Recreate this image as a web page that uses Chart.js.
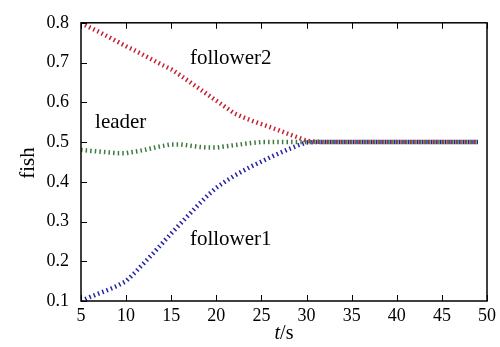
<!DOCTYPE html>
<html>
<head>
<meta charset="utf-8">
<script src="https://cdn.jsdelivr.net/npm/chart.js@4.4.1/dist/chart.umd.min.js"></script>
<style>
html, body { margin: 0; padding: 0; background: #fff; }
#wrap { width: 500px; height: 347px; position: relative; }
</style>
</head>
<body>
<div id="wrap"><canvas id="fish_chart"></canvas></div>
<script>
// time axis (s)
var times = [5, 6, 7, 8, 9, 10, 11, 12, 13, 14, 15, 16, 17, 18, 19, 20, 21, 22, 23, 24, 25, 26, 27, 28, 29, 30,
             31, 32, 33, 34, 35, 36, 37, 38, 39, 40, 41, 42, 43, 44, 45, 46, 47, 48, 49];

var follower2 = [0.800, 0.788, 0.777, 0.765, 0.753, 0.741, 0.730, 0.718, 0.706, 0.694, 0.683, 0.668, 0.652, 0.636, 0.620, 0.604,
                 0.588, 0.572, 0.562, 0.553, 0.545, 0.537, 0.529, 0.520, 0.512, 0.503,
                 0.501, 0.500, 0.500, 0.500, 0.500, 0.500, 0.500, 0.500, 0.500, 0.500, 0.500, 0.500, 0.500, 0.500,
                 0.500, 0.500, 0.500, 0.500, 0.500];

var leader = [0.480, 0.478, 0.476, 0.474, 0.472, 0.472, 0.476, 0.480, 0.485, 0.490, 0.494, 0.494, 0.491, 0.488, 0.486, 0.486,
              0.489, 0.492, 0.495, 0.498, 0.500, 0.500, 0.500, 0.500, 0.500, 0.500,
              0.500, 0.500, 0.500, 0.500, 0.500, 0.500, 0.500, 0.500, 0.500, 0.500, 0.500, 0.500, 0.500, 0.500,
              0.500, 0.500, 0.500, 0.500, 0.500];

var follower1 = [0.100, 0.110, 0.119, 0.128, 0.138, 0.150, 0.172, 0.196, 0.220, 0.245, 0.270, 0.294, 0.318, 0.342, 0.365, 0.385,
                 0.401, 0.415, 0.428, 0.440, 0.451, 0.462, 0.472, 0.482, 0.491, 0.499,
                 0.500, 0.500, 0.500, 0.500, 0.500, 0.500, 0.500, 0.500, 0.500, 0.500, 0.500, 0.500, 0.500, 0.500,
                 0.500, 0.500, 0.500, 0.500, 0.500];

var xTicks = [5, 10, 15, 20, 25, 30, 35, 40, 45, 50];
var yTicks = [0.1, 0.2, 0.3, 0.4, 0.5, 0.6, 0.7, 0.8];

// curve name labels, placed in data coordinates
var curveLabels = [
    { text: 'follower2', t: 21.6, v: 0.710 },
    { text: 'leader', t: 9.4, v: 0.550 },
    { text: 'follower1', t: 21.6, v: 0.255 }
];

var serif = '"Liberation Serif", "Times New Roman", serif';

function pairs(xs, ys) {
    return xs.map(function (x, i) { return { x: x, y: ys[i] }; });
}

var frameAndText = {
    id: 'frameAndText',
    afterDraw: function (chart) {
        var ctx = chart.ctx, a = chart.chartArea;
        var xs = chart.scales.x, ys = chart.scales.y;
        ctx.save();
        ctx.strokeStyle = '#000';
        ctx.lineWidth = 1.5;
        ctx.strokeRect(a.left, a.top, a.right - a.left, a.bottom - a.top);

        // inward ticks: bottom, top and left
        ctx.lineWidth = 1;
        ctx.beginPath();
        xTicks.forEach(function (t) {
            var px = Math.round(xs.getPixelForValue(t)) + 0.5;
            ctx.moveTo(px, a.bottom); ctx.lineTo(px, a.bottom - 6);
            ctx.moveTo(px, a.top); ctx.lineTo(px, a.top + 6);
        });
        yTicks.forEach(function (v) {
            var py = Math.round(ys.getPixelForValue(v)) + 0.5;
            ctx.moveTo(a.left, py); ctx.lineTo(a.left + 6, py);
        });
        ctx.stroke();

        ctx.fillStyle = '#000';
        ctx.font = '21px ' + serif;
        ctx.textAlign = 'center';
        ctx.textBaseline = 'middle';
        curveLabels.forEach(function (l) {
            ctx.fillText(l.text, xs.getPixelForValue(l.t), ys.getPixelForValue(l.v));
        });

        // y title
        ctx.save();
        ctx.translate(28, 163);
        ctx.rotate(-Math.PI / 2);
        ctx.fillText('fish', 0, 0);
        ctx.restore();

        // x title: italic t, upright /s
        ctx.textAlign = 'left';
        ctx.font = 'italic 20px ' + serif;
        var tw = ctx.measureText('t').width;
        ctx.font = '20px ' + serif;
        var sw = ctx.measureText('/s').width;
        var x0 = 284 - (tw + sw) / 2;
        ctx.font = 'italic 20px ' + serif;
        ctx.fillText('t', x0, 334);
        ctx.font = '20px ' + serif;
        ctx.fillText('/s', x0 + tw, 334);
        ctx.restore();
    }
};

function lineSet(label, values, color) {
    return {
        label: label,
        data: pairs(times, values),
        borderColor: color,
        borderWidth: 4.5,
        borderDash: [1.5, 3.1],
        borderCapStyle: 'butt',
        pointRadius: 0,
        fill: false,
        tension: 0
    };
}

new Chart(document.getElementById('fish_chart').getContext('2d'), {
    type: 'line',
    data: {
        datasets: [
            lineSet('leader', leader, '#3d7a3d'),
            lineSet('follower1', follower1, '#2424a8'),
            lineSet('follower2', follower2, '#c42030')
        ]
    },
    options: {
        responsive: true,
        maintainAspectRatio: false,
        animation: false,
        layout: { padding: { top: 15, right: 11, left: 0, bottom: 0 } },
        plugins: { legend: { display: false }, tooltip: { enabled: false } },
        scales: {
            x: {
                type: 'linear',
                min: 5,
                max: 50,
                afterBuildTicks: function (s) { s.ticks = xTicks.map(function (v) { return { value: v }; }); },
                afterFit: function (s) { s.height = 46; },
                grid: { display: false, drawTicks: false },
                border: { display: false },
                ticks: {
                    color: '#000',
                    padding: 4,
                    maxRotation: 0,
                    font: { family: serif, size: 18 },
                    callback: function (v) { return String(v); }
                }
            },
            y: {
                min: 0.1,
                max: 0.8,
                afterBuildTicks: function (s) { s.ticks = yTicks.map(function (v) { return { value: v }; }); },
                afterFit: function (s) { s.width = 81; },
                grid: { display: false, drawTicks: false },
                border: { display: false },
                ticks: {
                    color: '#000',
                    padding: 12,
                    font: { family: serif, size: 18 },
                    callback: function (v) { return Number(v).toFixed(1); }
                }
            }
        }
    },
    plugins: [frameAndText]
});
</script>
</body>
</html>
